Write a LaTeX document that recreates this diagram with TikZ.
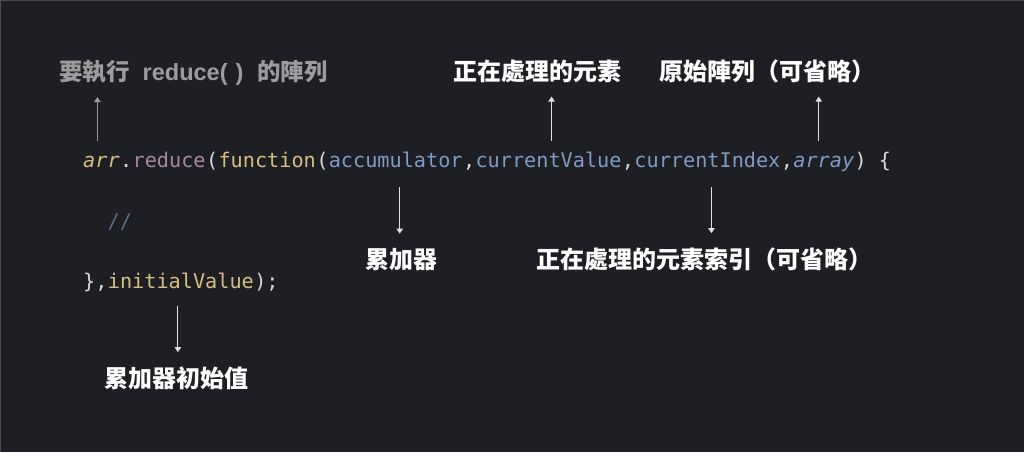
\documentclass[tikz,border=0pt]{standalone}
\usepackage{fontspec}
\setmainfont{Noto Sans CJK TC}
\setmonofont{DejaVu Sans Mono}
\newfontfamily\latinsans{Liberation Sans}
\usepackage{tikz}
\usetikzlibrary{arrows.meta,positioning}
\definecolor{bgdark}{HTML}{1E1F24}
\definecolor{frameline}{HTML}{4A4B50}
\definecolor{codeyellow}{HTML}{D6BE7C}
\definecolor{codepurple}{HTML}{A6879E}
\definecolor{codeblue}{HTML}{7D9CBF}
\definecolor{codepunct}{HTML}{D9D9D9}
\definecolor{codecomment}{HTML}{606B85}
\definecolor{labelgray}{HTML}{9C9C9C}
\tikzset{
   code/.style={inner sep=0pt,anchor=base west,text height=15pt,text depth=4pt,
                font=\ttfamily\fontsize{20.2}{24}\selectfont},
   kw node/.style={code,text=codeyellow},
   fn node/.style={code,text=codepurple},
   arg node/.style={code,text=codeblue},
   punct node/.style={code,text=codepunct},
   label node/.style={inner sep=0pt,anchor=base west,text=white,
                      font=\bfseries\fontsize{24}{28}\selectfont},
   pointer/.style={->,line width=0.9pt,draw=white!88!black}
}
\begin{document}
\begin{tikzpicture}[x=1pt,y=-1pt,
                    >={Triangle[length=5pt,width=6.5pt]}]
\useasboundingbox (0,0) rectangle (1024,452);
\fill[bgdark] (0,0) rectangle (1024,452);
\draw[frameline,line width=1.5pt] (0,452) -- (0,0) -- (1024,0);
% line 1
\node[kw node,font=\ttfamily\itshape\fontsize{20.2}{24}\selectfont] (arr) at (83,167) {arr};
\node[punct node] (dot) at (arr.base east) {.};
\node[fn node] (reduce) at (dot.base east) {reduce};
\node[punct node] (open1) at (reduce.base east) {(};
\node[kw node] (function) at (open1.base east) {function};
\node[punct node] (open2) at (function.base east) {(};
\node[arg node] (acc) at (open2.base east) {accumulator};
\node[punct node] (comma1) at (acc.base east) {,};
\node[arg node] (curval) at (comma1.base east) {currentValue};
\node[punct node] (comma2) at (curval.base east) {,};
\node[arg node] (curidx) at (comma2.base east) {currentIndex};
\node[punct node] (comma3) at (curidx.base east) {,};
\node[arg node,font=\ttfamily\itshape\fontsize{20.2}{24}\selectfont] (array) at (comma3.base east) {array};
\node[punct node] (close1) at (array.base east) {) \{};
% line 2 and 3
\node[code,text=codecomment] (comment) at (107.4,228) {//};
\node[punct node] (brace) at (83,288) {\},};
\node[kw node] (initval) at (brace.base east) {initialValue};
\node[punct node] (close2) at (initval.base east) {);};
% labels
\node[label node,text=labelgray,font=\bfseries\fontsize{23.5}{28}\selectfont] (arrLabel) at (59,80)
     {要執行\hspace{13pt}{\latinsans reduce(\hspace{8pt})}\hspace{14pt}的陣列};
\node[label node] (curvalLabel) at (453,80) {正在處理的元素};
\node[label node] (arrayLabel) at (659,80) {原始陣列（可省略）};
\node[label node] (accLabel) at (365,268) {累加器};
\node[label node] (curidxLabel) at (536,268) {正在處理的元素索引（可省略）};
\node[label node] (initvalLabel) at (104,387) {累加器初始值};
%
\draw[pointer,draw=labelgray] ([xshift=-4pt,yshift=11pt]arr.north) -- ([xshift=-4pt]arr.north |- arrLabel.south) [shorten >=12pt];
\draw[pointer] ([xshift=3pt,yshift=11pt]curval.north) -- ([xshift=3pt]curval.north |- curvalLabel.south) [shorten >=14pt];
\draw[pointer] ([xshift=-5pt,yshift=11pt]array.north) -- ([xshift=-5pt]array.north |- arrayLabel.south) [shorten >=14pt];
\draw[pointer] ([xshift=4pt,yshift=-16pt]acc.south) -- ([xshift=4pt]acc.south |- accLabel.north) [shorten >=14pt];
\draw[pointer] ([xshift=4pt,yshift=-16pt]curidx.south) -- ([xshift=4pt]curidx.south |- curidxLabel.north) [shorten >=14pt];
\draw[pointer] ([xshift=-3pt,yshift=-14pt]initval.south) -- ([xshift=-3pt]initval.south |- initvalLabel.north) [shorten >=14pt];
\end{tikzpicture}
\end{document}
